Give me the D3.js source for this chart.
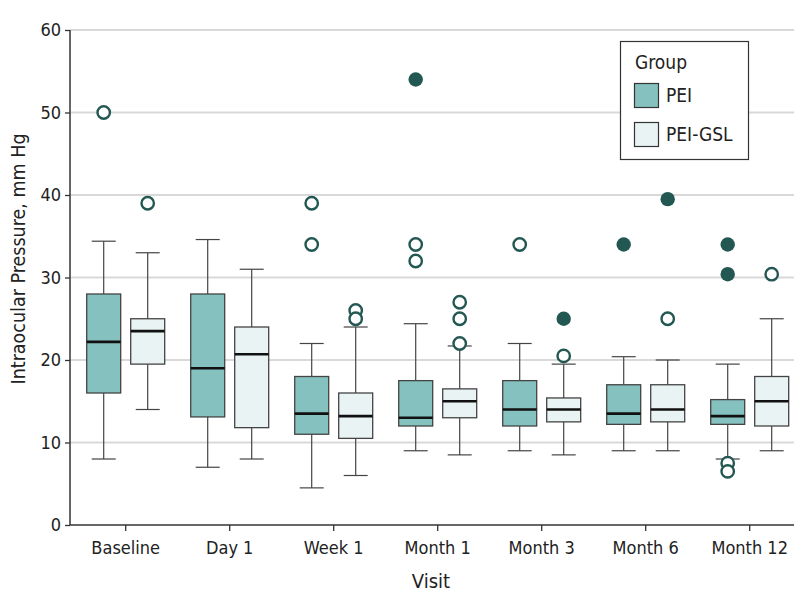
<!DOCTYPE html>
<html><head><meta charset="utf-8">
<script src="https://cdn.jsdelivr.net/npm/d3@7"></script>
<style>body{margin:0;background:#fff;} text{font-family:"DejaVu Sans Condensed","Liberation Sans Narrow","Roboto Condensed",sans-serif;}</style>
</head><body><svg id="c" width="794" height="609"></svg>
<script>
const visits = ["Baseline","Day 1","Week 1","Month 1","Month 3","Month 6","Month 12"];
const groups = ["PEI","PEI-GSL"];
const yTicks = [0,10,20,30,40,50,60];
// PEI
const peiLow  = [8, 7, 4.5, 9, 9, 9, 8];
const peiQ1   = [16, 13.1, 11, 12, 12, 12.2, 12.2];
const peiMed  = [22.2, 19, 13.5, 13, 14, 13.5, 13.2];
const peiQ3   = [28, 28, 18, 17.5, 17.5, 17, 15.2];
const peiHigh = [34.4, 34.6, 22, 24.4, 22, 20.4, 19.5];
const peiOut  = [[50], [], [39, 34], [34, 32], [34], [], [7.5, 6.5]];
const peiFar  = [[], [], [], [54], [], [34], [34, 30.4]];
// PEI-GSL
const gslLow  = [14, 8, 6, 8.5, 8.5, 9, 9];
const gslQ1   = [19.5, 11.8, 10.5, 13, 12.5, 12.5, 12];
const gslMed  = [23.5, 20.7, 13.2, 15, 14, 14, 15];
const gslQ3   = [25, 24, 16, 16.5, 15.4, 17, 18];
const gslHigh = [33, 31, 24, 21.7, 19.5, 20, 25];
const gslOut  = [[39], [], [26, 25], [27, 25, 22], [20.5], [25], [30.4]];
const gslFar  = [[], [], [], [], [25], [39.5], []];

const colors = {"PEI":"#85c1bf","PEI-GSL":"#e9f3f3"};
const dark = "#235752";

const svg = d3.select("#c");
const W = 794, H = 609;
const y = d3.scaleLinear().domain([0,60]).range([525,30]);
const x = d3.scaleBand().domain(visits).range([73.7, 801.7]);
const xg = d3.scaleBand().domain(groups).range([-39, 39]).paddingInner(10/44).paddingOuter(0);

// gridlines
svg.append("g").selectAll("line").data(yTicks.filter(d=>d>0)).join("line")
  .attr("x1",70).attr("x2",W).attr("y1",d=>y(d)).attr("y2",d=>y(d))
  .attr("stroke","#d9d9d9").attr("stroke-width",2);

// axes
const ya = svg.append("g").attr("transform","translate(70,0)")
  .call(d3.axisLeft(y).tickValues(yTicks).tickSize(5).tickPadding(4));
ya.select(".domain").attr("stroke","#333").attr("stroke-width",1.5).attr("d","M0,"+y(0)+"V"+y(60));
ya.selectAll(".tick line").attr("stroke","#333").attr("stroke-width",1.3);
ya.selectAll("text").attr("font-size",18).attr("fill","#222");

const xa = svg.append("g").attr("transform","translate(0,525)")
  .call(d3.axisBottom(x).tickSize(6).tickPadding(9));
xa.select(".domain").attr("stroke","#333").attr("stroke-width",1.5).attr("d","M70,0H"+W);
xa.selectAll(".tick line").attr("stroke","#333").attr("stroke-width",1.3);
xa.selectAll("text").attr("font-size",18).attr("fill","#222").attr("dy","0.8em");

svg.append("text").attr("x",431).attr("y",588).attr("text-anchor","middle")
  .attr("font-size",20).attr("fill","#222").text("Visit");
svg.append("text").attr("transform","translate(25,259) rotate(-90)").attr("text-anchor","middle")
  .attr("font-size",19.5).attr("fill","#222").text("Intraocular Pressure, mm Hg");

// boxes
const data = [];
visits.forEach((v,i)=>{
  data.push({v, g:"PEI", low:peiLow[i], q1:peiQ1[i], med:peiMed[i], q3:peiQ3[i], high:peiHigh[i], out:peiOut[i], far:peiFar[i]});
  data.push({v, g:"PEI-GSL", low:gslLow[i], q1:gslQ1[i], med:gslMed[i], q3:gslQ3[i], high:gslHigh[i], out:gslOut[i], far:gslFar[i]});
});
const bw = xg.bandwidth();
const capW = 24;
const gB = svg.append("g");
data.forEach(d=>{
  const x0 = x(d.v) + x.bandwidth()/2 + xg(d.g);
  const cx = x0 + bw/2;
  const g = gB.append("g");
  g.append("line").attr("x1",cx).attr("x2",cx).attr("y1",y(d.q3)).attr("y2",y(d.high)).attr("stroke","#444").attr("stroke-width",1.2);
  g.append("line").attr("x1",cx).attr("x2",cx).attr("y1",y(d.q1)).attr("y2",y(d.low)).attr("stroke","#444").attr("stroke-width",1.2);
  g.append("line").attr("x1",cx-capW/2).attr("x2",cx+capW/2).attr("y1",y(d.high)).attr("y2",y(d.high)).attr("stroke","#444").attr("stroke-width",1.2);
  g.append("line").attr("x1",cx-capW/2).attr("x2",cx+capW/2).attr("y1",y(d.low)).attr("y2",y(d.low)).attr("stroke","#444").attr("stroke-width",1.2);
  g.append("rect").attr("x",x0).attr("width",bw).attr("y",y(d.q3)).attr("height",y(d.q1)-y(d.q3))
    .attr("fill",colors[d.g]).attr("stroke","#444").attr("stroke-width",1.3);
  g.append("line").attr("x1",x0).attr("x2",x0+bw).attr("y1",y(d.med)).attr("y2",y(d.med)).attr("stroke","#111").attr("stroke-width",2.6);
  d.out.forEach(o=>g.append("circle").attr("cx",cx).attr("cy",y(o)).attr("r",6.2)
    .attr("fill","#fff").attr("stroke",dark).attr("stroke-width",2.4));
  d.far.forEach(o=>g.append("circle").attr("cx",cx).attr("cy",y(o)).attr("r",7.2).attr("fill",dark));
});

// legend
const lg = svg.append("g");
lg.append("rect").attr("x",620.5).attr("y",41.5).attr("width",128).attr("height",118)
  .attr("fill","#fff").attr("stroke","#333").attr("stroke-width",1.2);
lg.append("text").attr("x",635).attr("y",69).attr("font-size",19).attr("fill","#222").text("Group");
groups.forEach((gname,i)=>{
  const yy = 83 + i*39;
  lg.append("rect").attr("x",634.5).attr("y",yy+0.5).attr("width",24).attr("height",24)
    .attr("fill",colors[gname]).attr("stroke","#333").attr("stroke-width",1.2);
  lg.append("text").attr("x",666).attr("y",yy+19).attr("font-size",19).attr("fill","#222").text(gname);
});
</script></body></html>
